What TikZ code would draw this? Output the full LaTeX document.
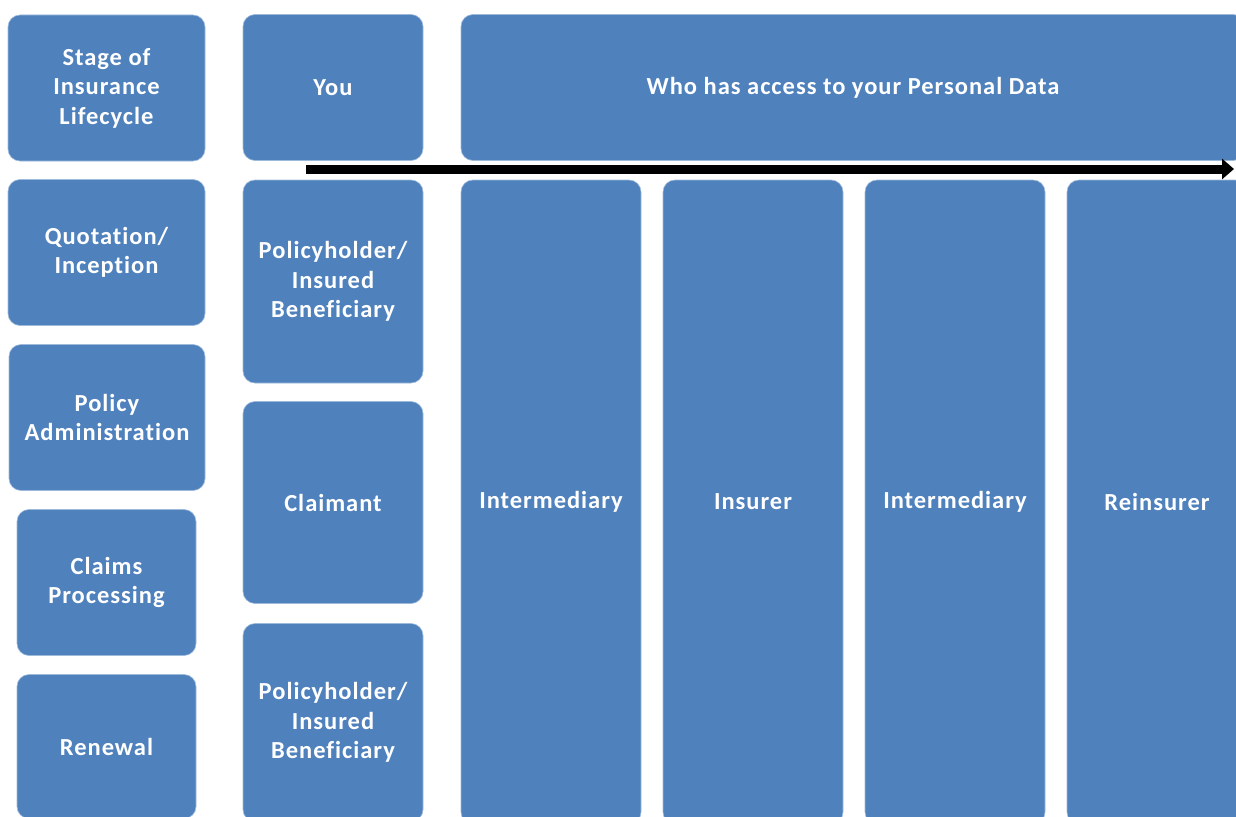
\documentclass[tikz,border=0pt]{standalone}
\usepackage{fontspec}
\setmainfont{Carlito}[LetterSpace=4,Ligatures={NoCommon,NoDiscretionary}]
\usetikzlibrary{arrows.meta}
\definecolor{boxblue}{HTML}{4F81BD}
\tikzset{
  card/.style={rounded corners=12pt, fill=boxblue, draw=boxblue!55!white, line width=0.6pt,
    text=white, font=\fontsize{24.5}{29.5}\selectfont\bfseries, align=center, inner sep=0pt},
}
\begin{document}
\begin{tikzpicture}[x=1pt,y=-1pt]
\useasboundingbox (0,0) rectangle (1236,816);
\clip (0,0) rectangle (1236,816);
% column 1: stages
\node[card, minimum width=197pt, minimum height=146pt] (stage) at (106.5,88) {Stage of\\Insurance\\Lifecycle};
\node[card, minimum width=197pt, minimum height=146pt] (quote) at (106.5,252.5) {Quotation/\\Inception};
\node[card, minimum width=196pt, minimum height=146pt] (admin) at (107,417.5) {Policy\\Administration};
\node[card, minimum width=179pt, minimum height=146pt] (claims) at (106.5,582.5) {Claims\\Processing};
\node[card, minimum width=179pt, minimum height=144pt] (renew) at (106.5,746.5) {Renewal};
% column 2: you
\node[card, minimum width=180pt, minimum height=146pt] (you) at (333,87.5) {You};
\node[card, minimum width=180pt, minimum height=203pt] (holder) at (333,281.5) {Policyholder/\\Insured\\Beneficiary};
\node[card, minimum width=180pt, minimum height=202pt] (claimant) at (333,502.5) {Claimant};
\node[card, minimum width=180pt, minimum height=198pt] (holder2) at (333,722.5) {Policyholder/\\Insured\\Beneficiary};
% header
\node[card, minimum width=784pt, minimum height=146pt] (who) at (853,87.5) {Who has access to your Personal Data};
% access columns
\node[card, minimum width=180pt, minimum height=644pt] (inter1) at (551,502) {Intermediary};
\node[card, minimum width=180pt, minimum height=644pt] (insurer) at (753,502) {Insurer};
\node[card, minimum width=180pt, minimum height=644pt] (inter2) at (955,502) {Intermediary};
\node[card, minimum width=180pt, minimum height=644pt] (reins) at (1157,502) {Reinsurer};
% arrow
\coordinate (arrS) at (306,169);
\coordinate (arrE) at (1234,169);
\draw[line width=9pt, -{Triangle[length=12pt,width=20pt]}] (arrS) -- (arrE);
\end{tikzpicture}
\end{document}
